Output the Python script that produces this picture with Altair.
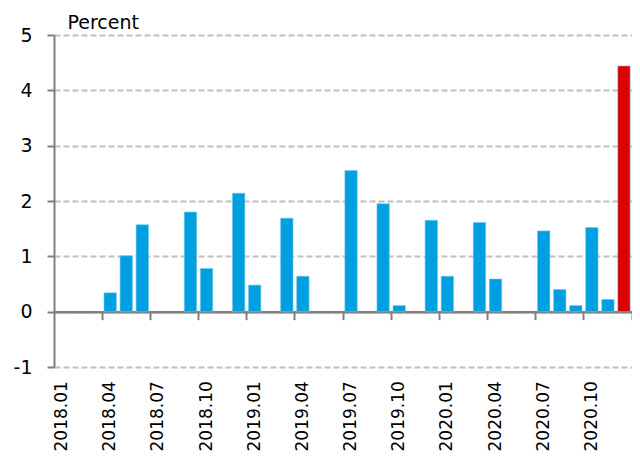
import altair as alt
import pandas as pd

months = [f"{y}.{m:02d}" for y in (2018, 2019, 2020) for m in range(1, 13)]
values = [None, None, None, 0.34, 1.01, 1.57, None, None, 1.80, 0.78, None, 2.14,
          0.48, None, 1.69, 0.64, None, None, 2.55, None, 1.95, 0.11, None, 1.65,
          0.64, None, 1.61, 0.59, None, None, 1.46, 0.40, 0.11, 1.52, 0.22, 4.44]
highlight = ["2020.12"]
tick_labels = months[::3]
# quarter boundaries: ticks drawn at the end of every third month
tick_bounds = months[2::3]

df = pd.DataFrame({"month": months, "value": values})
df = df.dropna()
df["hl"] = df["month"].isin(highlight)

FONT = "DejaVu Sans"
xscale = alt.Scale(domain=months, paddingInner=0, paddingOuter=0)
yscale = alt.Scale(domain=[-1, 5], nice=False, zero=False)

bars = alt.Chart(df).mark_bar(stroke="#6cc8ef", strokeWidth=0.6,
                              width=alt.RelativeBandSize(0.77)).encode(
    x=alt.X("month:O", sort=months, scale=xscale,
            axis=alt.Axis(title=None, orient="bottom", values=tick_labels,
                          labelAngle=-90, offset=-55.33, domain=False,
                          ticks=True, tickOpacity=0, tickSize=8,
                          labelPadding=61, labelFont=FONT, labelFontSize=17,
                          labelColor="#000000", labelOverlap=False, grid=False)),
    y=alt.Y("value:Q", scale=yscale,
            axis=alt.Axis(title="Percent", titleAngle=0, titleX=13, titleY=-7,
                          titleAlign="left", titleBaseline="alphabetic",
                          titleFont=FONT, titleFontSize=19, titleFontWeight="normal",
                          titleColor="#000000",
                          values=[-1, 0, 1, 2, 3, 4, 5], labelExpr="datum.value",
                          labelFont=FONT, labelFontSize=19, labelColor="#000000",
                          labelPadding=15,
                          domainColor="#808080", domainWidth=2,
                          tickColor="#808080", tickWidth=2, tickSize=7,
                          grid=True, gridColor="#c0c0c0", gridDash=[6, 3],
                          gridWidth=1.8)),
    color=alt.Color("hl:N", scale=alt.Scale(domain=[False, True],
                                            range=["#009fe0", "#dd0000"]),
                    legend=None),
)

ticks_layer = alt.Chart(df).mark_point(opacity=0).encode(
    x=alt.X("month:O", sort=months, scale=xscale,
            axis=alt.Axis(title=None, orient="bottom", values=tick_bounds,
                          bandPosition=1, tickExtra=False,
                          offset=-55.33, labels=False,
                          domainColor="#808080", domainWidth=2.5,
                          tickColor="#808080", tickWidth=2, tickSize=8,
                          grid=False)),
    y=alt.value(0),
)

chart = alt.layer(bars, ticks_layer).resolve_axis(x="independent").properties(
    width=578, height=332,
    autosize=alt.AutoSizeParams(type="none"),
    padding={"left": 46, "top": 27, "right": 0, "bottom": 86},
).configure_view(stroke=None)

chart.save("out.html", embed_options={"renderer": "svg", "actions": False})
